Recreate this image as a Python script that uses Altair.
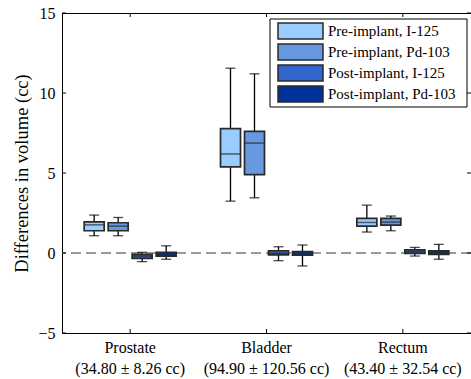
import altair as alt
import pandas as pd

categories = ["Prostate", "Bladder", "Rectum"]
sublabels = ["(34.80 ± 8.26 cc)", "(94.90 ± 120.56 cc)", "(43.40 ± 32.54 cc)"]
series = ["Pre-implant, I-125", "Pre-implant, Pd-103", "Post-implant, I-125", "Post-implant, Pd-103"]
colors = ["#99CCFF", "#6699E0", "#3366CC", "#003399"]

# per category, per series: whisker low, q1, median, q3, whisker high
lo = [[1.08, 1.08, -0.54, -0.39], [3.24, 3.45, -0.48, -0.81], [1.31, 1.39, -0.19, -0.39]]
q1 = [[1.39, 1.39, -0.33, -0.19], [5.38, 4.90, -0.12, -0.14], [1.68, 1.74, -0.02, -0.08]]
med = [[1.76, 1.68, -0.19, -0.04], [6.19, 6.87, -0.02, -0.03], [1.91, 1.93, 0.08, 0.04]]
q3 = [[1.95, 1.89, -0.08, 0.04], [7.77, 7.60, 0.14, 0.08], [2.16, 2.16, 0.19, 0.14]]
hi = [[2.37, 2.22, 0.04, 0.45], [11.55, 11.20, 0.39, 0.50], [2.99, 2.31, 0.35, 0.54]]

yticks = [-5, 0, 5, 10, 15]

rows = []
for i, c in enumerate(categories):
    for j, s in enumerate(series):
        rows.append(dict(cat=c, ser=s, lo=lo[i][j], q1=q1[i][j], med=med[i][j], q3=q3[i][j], hi=hi[i][j]))
df = pd.DataFrame(rows)
leg_df = pd.DataFrame({"ser": series, "idx": list(range(len(series)))})

W, H = 409, 320
FONT = "Liberation Serif"

# legend layout (pixels, relative to plot area)
LX0, LX1, LY0, LY1 = 208, 405, 6, 94
SW0, SW1, SWH = 216, 261, 16
ROW0, ROWSTEP = 18, 21
TX = 266

label_expr = " : ".join(
    f"datum.value == '{c}' ? ['{c}', '{s}']" for c, s in zip(categories, sublabels)
) + " : datum.value"

xscale = alt.Scale(domain=categories, paddingInner=0, paddingOuter=0)
xoff_scale = alt.Scale(domain=series, paddingInner=1/6, paddingOuter=0.924)
yscale = alt.Scale(domain=[-5, 15], nice=False, zero=False)
cscale = alt.Scale(domain=series, range=colors)

xenc = alt.X("cat:N", scale=xscale, sort=categories,
             axis=alt.Axis(title=None, labelAngle=0, labelExpr=label_expr, tickSize=0,
                           labelPadding=6, labelLineHeight=21, labelFontSize=16,
                           domain=True, domainColor="black", domainWidth=1,
                           labelFont=FONT, labelColor="black"))
xoff = alt.XOffset("ser:N", scale=xoff_scale, sort=series)

base = alt.Chart(df)

zero_line = alt.Chart(pd.DataFrame({"y": [0]})).mark_rule(
    color="#7a7a7a", strokeDash=[10, 5], strokeWidth=1.6
).encode(y=alt.Y("y:Q", scale=yscale))

whisk = base.mark_rule(color="black", strokeWidth=1.3).encode(
    x=xenc, xOffset=xoff,
    y=alt.Y("lo:Q", scale=yscale,
            axis=alt.Axis(title="Differences in volume (cc)", values=yticks, tickSize=0,
                          labelPadding=7, labelFontSize=16, labelFont=FONT, labelColor="black",
                          titleFont=FONT, titleFontSize=18.5, titleFontWeight="normal",
                          titleColor="black", titlePadding=6, grid=False,
                          domain=True, domainColor="black", domainWidth=1)),
    y2="hi:Q")

caps_lo = base.mark_tick(color="black", size=10, thickness=1.3).encode(
    x=xenc, xOffset=xoff, y=alt.Y("lo:Q", scale=yscale))
caps_hi = base.mark_tick(color="black", size=10, thickness=1.3).encode(
    x=xenc, xOffset=xoff, y=alt.Y("hi:Q", scale=yscale))

boxes = base.mark_bar(stroke="#2a2a2a", strokeWidth=1.7).encode(
    x=xenc, xOffset=xoff,
    y=alt.Y("q1:Q", scale=yscale), y2="q3:Q",
    color=alt.Color("ser:N", sort=series, scale=cscale, legend=None))

medians = base.mark_tick(color="#2a2a2a", size=20, thickness=1.5).encode(
    x=xenc, xOffset=xoff, y=alt.Y("med:Q", scale=yscale))

ytick_df = pd.DataFrame({"v": yticks})
left_ticks = alt.Chart(ytick_df).mark_rule(color="black").encode(
    y=alt.Y("v:Q", scale=yscale), x=alt.value(0), x2=alt.value(4))
right_ticks = alt.Chart(ytick_df).mark_rule(color="black").encode(
    y=alt.Y("v:Q", scale=yscale), x=alt.value(W - 4), x2=alt.value(W))

cat_df = pd.DataFrame({"cat": categories})
bottom_ticks = alt.Chart(cat_df).mark_rule(color="black").encode(
    x=alt.X("cat:N", scale=xscale, sort=categories), y=alt.value(H - 4), y2=alt.value(H))
top_ticks = alt.Chart(cat_df).mark_rule(color="black").encode(
    x=alt.X("cat:N", scale=xscale, sort=categories), y=alt.value(0), y2=alt.value(4))
top_line = alt.Chart(cat_df).mark_rule(color="black").encode(
    x=alt.value(0), x2=alt.value(W), y=alt.value(0.5))

# manual legend
leg_frame = alt.Chart(pd.DataFrame({"a": [0]})).mark_rect(
    fill="white", stroke="black", strokeWidth=1
).encode(x=alt.value(LX0), x2=alt.value(LX1), y=alt.value(LY0), y2=alt.value(LY1))

leg_base = alt.Chart(leg_df).transform_calculate(
    cy=f"{ROW0} + datum.idx * {ROWSTEP}",
    y0=f"{ROW0} + datum.idx * {ROWSTEP} - {SWH / 2}",
    y1=f"{ROW0} + datum.idx * {ROWSTEP} + {SWH / 2}",
)
leg_sw = leg_base.mark_rect(stroke="#2a2a2a", strokeWidth=1.5).encode(
    x=alt.value(SW0), x2=alt.value(SW1),
    y=alt.Y("y0:Q", scale=None), y2=alt.Y2("y1:Q"),
    color=alt.Color("ser:N", scale=cscale, legend=None))
leg_tx = leg_base.mark_text(align="left", baseline="middle", font=FONT, fontSize=15,
                            color="black").encode(
    x=alt.value(TX), y=alt.Y("cy:Q", scale=None), text="ser:N")

chart = alt.layer(
    zero_line, whisk, caps_lo, caps_hi, boxes, medians,
    left_ticks, right_ticks, bottom_ticks, top_ticks, top_line,
    leg_frame, leg_sw, leg_tx
).properties(
    width=W, height=H,
    autosize=alt.AutoSizeParams(type="none"),
    padding={"left": 62, "top": 13, "right": 0, "bottom": 46},
    background="white",
).configure_view(stroke=None)

chart.save("out.html", embed_options={"renderer": "svg", "actions": False})
